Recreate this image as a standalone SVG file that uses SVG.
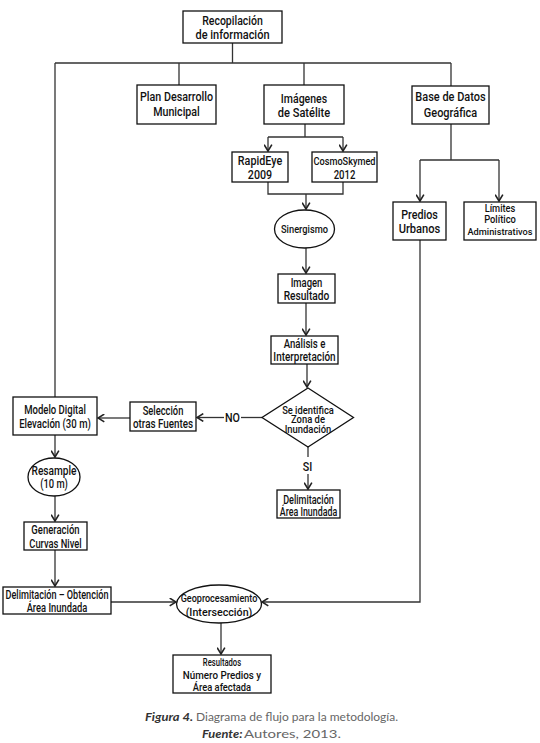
<svg xmlns="http://www.w3.org/2000/svg" width="540" height="743" viewBox="0 0 540 743">
<style>
.bg{fill:#fff}
.box{fill:#fff;stroke:#111;stroke-width:1.3}
.ln{fill:none;stroke:#333;stroke-width:1.3}
.t{font-family:Roboto,"Liberation Sans",sans-serif;font-weight:500;font-size:12px;text-anchor:middle;fill:#111}
.s{font-size:11px}
.m{font-size:11px}
.d{font-size:10px}
.x{font-size:10.5px}
.xs{font-size:9.5px}
.lbl{font-family:Roboto,"Liberation Sans",sans-serif;font-weight:500;font-size:12.5px;text-anchor:middle;fill:#111}
.capb{font-family:Lato,"Open Sans",sans-serif;font-weight:700;font-style:italic;font-size:12px;fill:#333}
.capn{font-family:Lato,"Open Sans",sans-serif;font-weight:400;font-size:12px;fill:#666}
</style>
<defs>
<marker id="arr" viewBox="0 0 10 10" refX="9" refY="5" markerWidth="9" markerHeight="9" markerUnits="userSpaceOnUse" orient="auto">
<path d="M2,0.7 L9,5 L2,9.3" fill="none" stroke="#222" stroke-width="1.8"/>
</marker>
</defs>
<rect class="bg" x="0" y="0" width="540" height="743"/>

<g id="connectors">
<path class="ln" d="M232.5,43 V63 M55,63 H451 M55,63 V397 M179,63 V85 M304,63 V85 M451,63 V86"/>
<path class="ln" d="M305,124 V137 M268,137 H343"/>
<path class="ln" d="M268,137 V151" marker-end="url(#arr)"/>
<path class="ln" d="M343,137 V151" marker-end="url(#arr)"/>
<path class="ln" d="M268,182 V194 H343 V182"/>
<path class="ln" d="M306,194 V209" marker-end="url(#arr)"/>
<path class="ln" d="M306,248 V273" marker-end="url(#arr)"/>
<path class="ln" d="M306,303 V335" marker-end="url(#arr)"/>
<path class="ln" d="M307,364 V387" marker-end="url(#arr)"/>
<path class="ln" d="M262,417.5 H241"/>
<path class="ln" d="M224,417.5 H197" marker-end="url(#arr)"/>
<path class="ln" d="M130,418 H98" marker-end="url(#arr)"/>
<path class="ln" d="M55,435 V457" marker-end="url(#arr)"/>
<path class="ln" d="M55,496 V521" marker-end="url(#arr)"/>
<path class="ln" d="M55,550 V586" marker-end="url(#arr)"/>
<path class="ln" d="M111,602 H176" marker-end="url(#arr)"/>
<path class="ln" d="M420,240 V602 H262" marker-end="url(#arr)"/>
<path class="ln" d="M221,623 V654" marker-end="url(#arr)"/>
<path class="ln" d="M308,447 V457"/>
<path class="ln" d="M308,474 V489" marker-end="url(#arr)"/>
<path class="ln" d="M451,124 V160 M420,160 H499"/>
<path class="ln" d="M420,160 V201" marker-end="url(#arr)"/>
<path class="ln" d="M499,160 V201" marker-end="url(#arr)"/>
<text class="lbl" x="232.5" y="422" textLength="15" lengthAdjust="spacingAndGlyphs">NO</text>
<text class="lbl" x="307.5" y="470.5" textLength="9.5" lengthAdjust="spacingAndGlyphs">SI</text>
</g>

<g id="recopilacion">
<rect class="box" x="183" y="11" width="99" height="32"/>
<text class="t" x="232.5" y="25" textLength="60.7" lengthAdjust="spacingAndGlyphs">Recopilación</text>
<text class="t" x="232.5" y="39" textLength="74" lengthAdjust="spacingAndGlyphs">de información</text>
</g>

<g id="plan">
<rect class="box" x="137" y="85" width="79" height="39"/>
<text class="t" x="176.5" y="101" textLength="73" lengthAdjust="spacingAndGlyphs">Plan Desarrollo</text>
<text class="t" x="176.5" y="115.5" textLength="46.7" lengthAdjust="spacingAndGlyphs">Municipal</text>
</g>

<g id="imagenes">
<rect class="box" x="264" y="85" width="80" height="39"/>
<text class="t" x="304" y="103" textLength="46.3" lengthAdjust="spacingAndGlyphs">Imágenes</text>
<text class="t" x="304" y="117" textLength="52.3" lengthAdjust="spacingAndGlyphs">de Satélite</text>
</g>

<g id="base">
<rect class="box" x="412" y="86" width="77" height="38"/>
<text class="t" x="450.5" y="100.5" textLength="70.3" lengthAdjust="spacingAndGlyphs">Base de Datos</text>
<text class="t" x="450.5" y="116.5" textLength="53.3" lengthAdjust="spacingAndGlyphs">Geográfica</text>
</g>

<g id="rapideye">
<rect class="box" x="232" y="152" width="56" height="30"/>
<text class="t" x="260" y="165" textLength="44.3" lengthAdjust="spacingAndGlyphs">RapidEye</text>
<text class="t" x="260" y="178.5" textLength="24.3" lengthAdjust="spacingAndGlyphs">2009</text>
</g>

<g id="cosmoskymed">
<rect class="box" x="312" y="152" width="65" height="30"/>
<text class="t s" x="344.5" y="165" textLength="62" lengthAdjust="spacingAndGlyphs">CosmoSkymed</text>
<text class="t" x="344.5" y="178.5" textLength="21.7" lengthAdjust="spacingAndGlyphs">2012</text>
</g>

<g id="sinergismo">
<ellipse class="box" cx="304.5" cy="229" rx="30" ry="19"/>
<text class="t s" x="304.5" y="233" textLength="47" lengthAdjust="spacingAndGlyphs">Sinergismo</text>
</g>

<g id="imagen-resultado">
<rect class="box" x="278" y="274" width="57" height="29"/>
<text class="t" x="306.5" y="287" textLength="31.7" lengthAdjust="spacingAndGlyphs">Imagen</text>
<text class="t" x="306.5" y="300" textLength="45.7" lengthAdjust="spacingAndGlyphs">Resultado</text>
</g>

<g id="analisis">
<rect class="box" x="271" y="336" width="67" height="28"/>
<text class="t" x="304.5" y="347.5" textLength="41.7" lengthAdjust="spacingAndGlyphs">Análisis e</text>
<text class="t" x="304.5" y="360.5" textLength="62.3" lengthAdjust="spacingAndGlyphs">Interpretación</text>
</g>

<g id="decision">
<polygon class="box" points="308,388 353.5,417.5 308,447 262,417.5"/>
<text class="t d" x="308" y="413.5" textLength="51.7" lengthAdjust="spacingAndGlyphs">Se identifica</text>
<text class="t d" x="308" y="423.3" textLength="34" lengthAdjust="spacingAndGlyphs">Zona de</text>
<text class="t d" x="308" y="433" textLength="46.7" lengthAdjust="spacingAndGlyphs">Inundación</text>
</g>

<g id="delimitacion">
<rect class="box" x="277" y="490" width="63" height="28"/>
<text class="t" x="308.5" y="503.5" textLength="50.7" lengthAdjust="spacingAndGlyphs">Delimitación</text>
<text class="t" x="308.5" y="516" textLength="57.3" lengthAdjust="spacingAndGlyphs">Área Inundada</text>
</g>

<g id="seleccion">
<rect class="box" x="130" y="402" width="66" height="29"/>
<text class="t" x="163" y="414.8" textLength="40.7" lengthAdjust="spacingAndGlyphs">Selección</text>
<text class="t" x="163" y="428" textLength="60" lengthAdjust="spacingAndGlyphs">otras Fuentes</text>
</g>

<g id="modelo">
<rect class="box" x="13" y="397" width="84" height="38"/>
<text class="t" x="55" y="414" textLength="61.7" lengthAdjust="spacingAndGlyphs">Modelo Digital</text>
<text class="t" x="55" y="428" textLength="71.7" lengthAdjust="spacingAndGlyphs">Elevación (30 m)</text>
</g>

<g id="resample">
<ellipse class="box" cx="54" cy="477" rx="26" ry="19"/>
<text class="t" x="54" y="475" textLength="45" lengthAdjust="spacingAndGlyphs">Resample</text>
<text class="t" x="54" y="488" textLength="27.7" lengthAdjust="spacingAndGlyphs">(10 m)</text>
</g>

<g id="generacion">
<rect class="box" x="24" y="522" width="63" height="28"/>
<text class="t" x="55.5" y="534" textLength="48.3" lengthAdjust="spacingAndGlyphs">Generación</text>
<text class="t" x="55.5" y="547.5" textLength="52.3" lengthAdjust="spacingAndGlyphs">Curvas Nivel</text>
</g>

<g id="delim-obtencion">
<rect class="box" x="3" y="587" width="108" height="27"/>
<text class="t" x="57" y="598.5" textLength="103" lengthAdjust="spacingAndGlyphs">Delimitación – Obtención</text>
<text class="t" x="57" y="612" textLength="60.7" lengthAdjust="spacingAndGlyphs">Área Inundada</text>
</g>

<g id="geoprocesamiento">
<ellipse class="box" cx="219" cy="604" rx="42.5" ry="19"/>
<text class="t s" x="219" y="601.7" textLength="76.7" lengthAdjust="spacingAndGlyphs">Geoprocesamiento</text>
<text class="t s" x="219" y="615.7" textLength="66.7" lengthAdjust="spacingAndGlyphs">(Intersección)</text>
</g>

<g id="resultados">
<rect class="box" x="173" y="655" width="98" height="38"/>
<text class="t m" x="222" y="666" textLength="38.3" lengthAdjust="spacingAndGlyphs">Resultados</text>
<text class="t m" x="222" y="678.5" textLength="78.3" lengthAdjust="spacingAndGlyphs">Número Predios y</text>
<text class="t m" x="222" y="691" textLength="58.3" lengthAdjust="spacingAndGlyphs">Área afectada</text>
</g>

<g id="predios">
<rect class="box" x="393" y="202" width="53" height="38"/>
<text class="t" x="419.5" y="219" textLength="36.7" lengthAdjust="spacingAndGlyphs">Predios</text>
<text class="t" x="419.5" y="232.5" textLength="41.7" lengthAdjust="spacingAndGlyphs">Urbanos</text>
</g>

<g id="limites">
<rect class="box" x="464" y="202" width="72" height="38"/>
<text class="t x" x="500" y="211.5" textLength="30.7" lengthAdjust="spacingAndGlyphs">Límites</text>
<text class="t x" x="500" y="223" textLength="31.7" lengthAdjust="spacingAndGlyphs">Político</text>
<text class="t xs" x="500" y="234.5" textLength="65" lengthAdjust="spacingAndGlyphs">Administrativos</text>
</g>

<g id="caption">
<text class="capb" x="145" y="721" textLength="48" lengthAdjust="spacingAndGlyphs">Figura 4.</text>
<text class="capn" x="196" y="721" textLength="202" lengthAdjust="spacingAndGlyphs">Diagrama de flujo para la metodología.</text>
<text class="capb" x="202" y="738" textLength="40.5" lengthAdjust="spacingAndGlyphs">Fuente:</text>
<text class="capn" x="244" y="738" textLength="97" lengthAdjust="spacingAndGlyphs">Autores, 2013.</text>
</g>
</svg>
